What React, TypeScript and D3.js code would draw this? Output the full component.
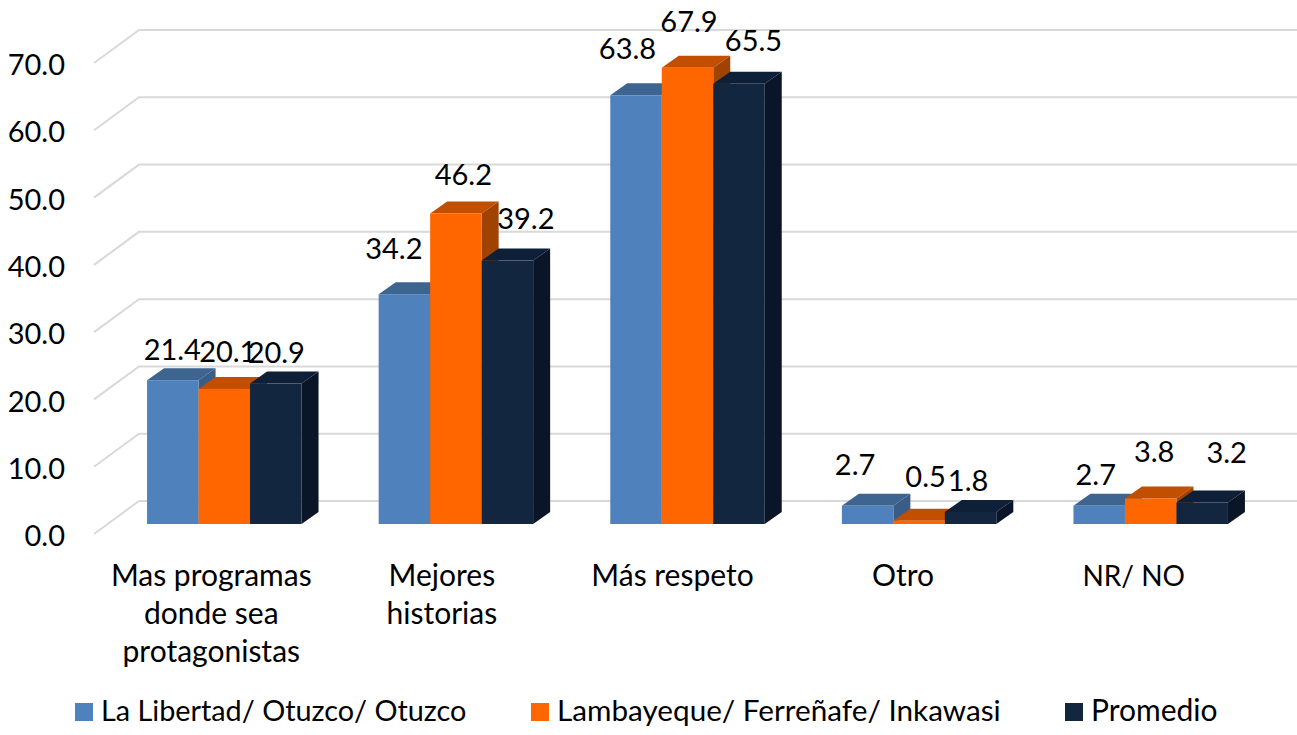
import React from 'react';
import * as d3 from 'd3';

const categories = [
  ['Mas programas', 'donde sea', 'protagonistas'],
  ['Mejores', 'historias'],
  ['Más respeto'],
  ['Otro'],
  ['NR/ NO'],
];
const seriesNames = ['La Libertad/ Otuzco/ Otuzco', 'Lambayeque/ Ferreñafe/ Inkawasi', 'Promedio'];
const libertad = [21.4, 34.2, 63.8, 2.7, 2.7];
const lambayeque = [20.1, 46.2, 67.9, 0.5, 3.8];
const promedio = [20.9, 39.2, 65.5, 1.8, 3.2];
const yTicks = [0, 10, 20, 30, 40, 50, 60, 70];

const frontColors = ['#4f81bd', '#ff6600', '#12263f'];
const topColors = ['#3e6590', '#c24f00', '#0e1f38'];
const sideColors = ['#3a5d87', '#a04200', '#0a1627'];

const width = 1297;
const height = 735;
const depthX = 17;
const depthY = 12;
const font = 'Lato, Carlito, sans-serif';

const series = [libertad, lambayeque, promedio];

// label nudges, the original has them placed by hand
const labelDx = [
  [-9, -5, -8],
  [-19, -1, 10],
  [-17, -7, 6],
  [-21, -2, -11],
  [-12, -5, 16],
];
const labelDy = [
  [1, -6, 0],
  [-14, -8, -11],
  [-15, -15, -12],
  [-10, -13, 0],
  [0, -15, -18],
];
const categoryDx = [-13, -14, -15, -16, -17];
const categorySize = [30, 30, 30, 30, 28];
const legendX = [75, 531, 1065];
const legendSize = [28.8, 29.7, 30];

export default function App() {
  const x = d3.scaleBand<number>().domain(d3.range(5)).range([110, 1265]).paddingInner(0.333).paddingOuter(0.16);
  const barW = x.bandwidth() / 3;
  // front plane of the bars
  const y = d3.scaleLinear().domain([0, 70]).range([524, 53.6]);
  // wall behind the bars
  const wall = d3.scaleLinear().domain([0, 70]).range([501, 30]);
  // axis labels sit on the front edge
  const axisY = d3.scaleLinear().domain([0, 70]).range([534, 63]);

  return (
    <svg width={width} height={height} style={{ position: 'absolute', left: 0, top: 0, background: '#fff' }} fontFamily={font}>
      {yTicks.map((t) => (
        <g key={t}>
          <polyline
            points={`94,${axisY(t)} 139,${wall(t)} 1297,${wall(t)}`}
            fill="none"
            stroke="#d9d9d9"
            strokeWidth={2}
          />
          <text x={65} y={axisY(t)} dy="0.42em" textAnchor="end" fontSize={29} fill="#000">
            {t.toFixed(1)}
          </text>
        </g>
      ))}
      {categories.map((_, c) => {
        const x0 = x(c)!;
        return (
          <g key={c}>
            {[0, 1, 2].map((s) => {
              const v = series[s][c];
              const l = x0 + s * barW;
              const r = l + barW;
              const t = y(v);
              const b = y(0);
              return (
                <g key={s}>
                  <polygon
                    points={`${l},${t} ${l + depthX},${t - depthY} ${r + depthX},${t - depthY} ${r},${t}`}
                    fill={topColors[s]}
                  />
                  <polygon
                    points={`${r},${t} ${r + depthX},${t - depthY} ${r + depthX},${b - depthY} ${r},${b}`}
                    fill={sideColors[s]}
                  />
                  <rect x={l} y={t} width={barW} height={b - t} fill={frontColors[s]} />
                </g>
              );
            })}
          </g>
        );
      })}
      {categories.map((_, c) =>
        series.map((vals, s) => (
          <text
            key={`${c}-${s}`}
            x={x(c)! + s * barW + barW / 2 + depthX / 2 + labelDx[c][s]}
            y={y(vals[c]) - depthY - 9 + labelDy[c][s]}
            textAnchor="middle"
            fontSize={29}
            fill="#000"
          >
            {vals[c].toFixed(1)}
          </text>
        )),
      )}
      {categories.map((lines, c) => (
        <text key={c} textAnchor="middle" fontSize={categorySize[c]} fill="#000">
          {lines.map((line, i) => (
            <tspan key={i} x={x(c)! + x.bandwidth() / 2 + categoryDx[c]} y={586 + i * 38}>
              {line}
            </tspan>
          ))}
        </text>
      ))}
      {seriesNames.map((name, i) => (
        <g key={name}>
          <rect x={legendX[i]} y={703} width={18} height={18} fill={frontColors[i]} />
          <text x={legendX[i] + 26} y={721} fontSize={legendSize[i]} fill="#000">
            {name}
          </text>
        </g>
      ))}
    </svg>
  );
}
